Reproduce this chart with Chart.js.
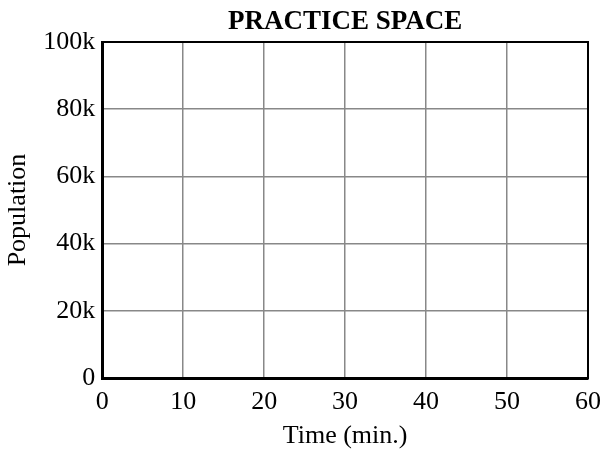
<!DOCTYPE html>
<html>
<head>
<meta charset="utf-8">
<script src="https://cdn.jsdelivr.net/npm/chart.js@4/dist/chart.umd.min.js"></script>
<style>
  html, body { margin: 0; padding: 0; background: #fff; }
  #wrap { width: 602px; height: 449px; }
</style>
</head>
<body>
<div id="wrap"><canvas id="practiceChart"></canvas></div>
<script>
// practice grid - no data plotted, just the axes
const xTicks = [0, 10, 20, 30, 40, 50, 60];
const yTicks = [0, 20000, 40000, 60000, 80000, 100000];
const yTickLabels = ['0', '20k', '40k', '60k', '80k', '100k'];
const points = [];

const serif = 'Liberation Serif, Times New Roman, serif';
const chartTitle = 'PRACTICE SPACE';

// title centred over the plot area, plus black frame round it
const frame = {
  id: 'frame',
  afterDraw(chart) {
    const { ctx, chartArea: a } = chart;
    ctx.save();
    ctx.strokeStyle = '#000';
    ctx.lineWidth = 2;
    ctx.strokeRect(a.left, a.top, a.right - a.left, a.bottom - a.top);
    ctx.fillStyle = '#000';
    ctx.font = 'bold 27px ' + serif;
    ctx.textAlign = 'center';
    ctx.textBaseline = 'alphabetic';
    ctx.fillText(chartTitle, (a.left + a.right) / 2, 29);
    ctx.restore();
  }
};

new Chart(document.getElementById('practiceChart'), {
  type: 'scatter',
  data: {
    datasets: [{ data: points, borderColor: '#000', backgroundColor: '#000' }]
  },
  options: {
    responsive: true,
    maintainAspectRatio: false,
    animation: false,
    layout: { padding: { left: 3, right: 0, top: 42, bottom: 0 } },
    plugins: {
      legend: { display: false },
      tooltip: { enabled: false },
      title: { display: false }
    },
    scales: {
      x: {
        type: 'linear',
        min: xTicks[0],
        max: xTicks[xTicks.length - 1],
        afterBuildTicks: s => { s.ticks = xTicks.map(v => ({ value: v })); },
        afterFit: s => { s.paddingRight = 14; },
        ticks: { color: '#000', font: { family: serif, size: 26, lineHeight: 1 }, padding: 11, maxRotation: 0 },
        grid: { color: '#888', lineWidth: 1.5, drawTicks: false },
        border: { color: '#000', width: 3 },
        title: { display: true, text: 'Time (min.)', color: '#000', font: { family: serif, size: 26, lineHeight: 1 }, padding: { top: -3, bottom: 0 } }
      },
      y: {
        type: 'linear',
        min: yTicks[0],
        max: yTicks[yTicks.length - 1],
        afterBuildTicks: s => { s.ticks = yTicks.map(v => ({ value: v })); },
        ticks: {
          color: '#000',
          font: { family: serif, size: 26 },
          padding: 7,
          callback: v => yTickLabels[yTicks.indexOf(v)]
        },
        grid: { color: '#888', lineWidth: 1.5, drawTicks: false },
        border: { color: '#000', width: 3 },
        title: { display: true, text: 'Population', color: '#000', font: { family: serif, size: 26 }, padding: { top: 0, bottom: 2 } }
      }
    }
  },
  plugins: [frame]
});
</script>
</body>
</html>
